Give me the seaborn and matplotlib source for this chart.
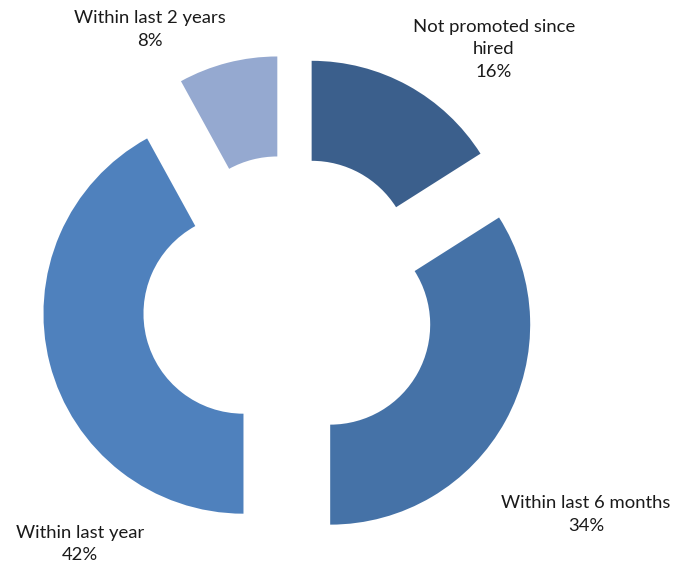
import numpy as np
import pandas as pd
import matplotlib
matplotlib.use('Agg')
import matplotlib.pyplot as plt
import seaborn as sns

# Data
categories = ['Not promoted since\nhired', 'Within last 6 months',
              'Within last year', 'Within last 2 years']
shares = [16, 34, 42, 8]
colors = ['#3B5F8C', '#4572A7', '#4F81BD', '#95A9D0']

sns.set_style('white')
plt.rcParams['font.family'] = ['Lato', 'DejaVu Sans']

fig = plt.figure(figsize=(6.89, 5.64), dpi=100)
ax = fig.add_axes([0, 0, 1, 1])

wedges, _ = ax.pie(shares, colors=colors, startangle=90, counterclock=False,
                   explode=[0.235] * len(shares),
                   wedgeprops=dict(width=0.5, edgecolor='none'))

# label positions (data units, radius = 1)
label_pos = [(1.025, 1.265), (1.485, -1.0625), (-1.045, -1.21), (-0.695, 1.3625)]
for name, val, (x, y) in zip(categories, shares, label_pos):
    ax.text(x, y, f'{name}\n{val}%', ha='center', va='center',
            fontsize=13.3, color='#1a1a1a', linespacing=1.5)

ax.set_xlim(-1.445, 2.0)
ax.set_ylim(-1.31, 1.51)
ax.set_aspect('equal')
ax.axis('off')

plt.savefig('out.png', dpi=100)
